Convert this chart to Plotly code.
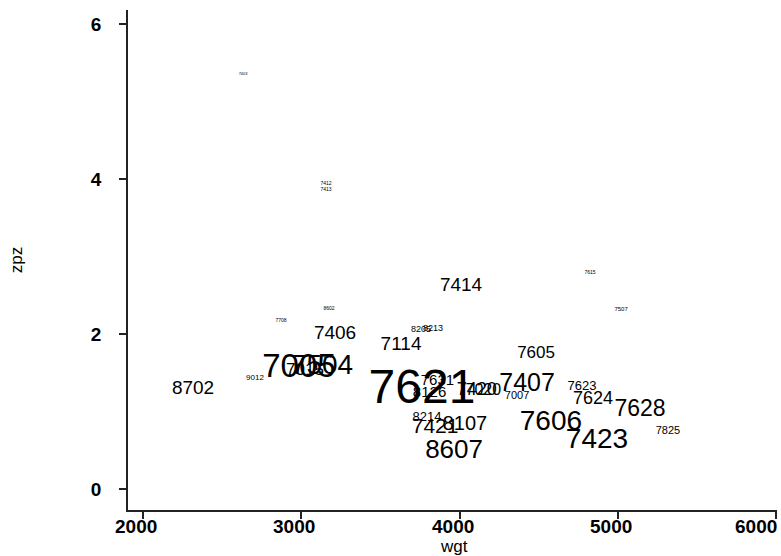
import plotly.graph_objects as go

# Observation ids, used as the marker labels
ids = ["8702", "9012", "7005", "7015", "7504", "8201", "7406", "7114",
       "8205", "8213", "7621", "7631", "8126", "7420", "7020", "7407",
       "7007", "7605", "7623", "7624", "7628", "7825", "7606", "7423",
       "8607", "7421", "8214", "8107", "7507", "8602", "7708", "7412",
       "7413", "7615", "7403", "7414"]

# Horizontal variable
wgt = [2316, 2707, 2985, 3023, 3131, 3175, 3213, 3630,
       3756, 3832, 3762, 3860, 3810, 4108, 4150, 4426,
       4363, 4483, 4773, 4843, 5140, 5316, 4577, 4868,
       3965, 3845, 3794, 4034, 5020, 3175, 2872, 3156,
       3156, 4824, 2632, 4009]

# Vertical variable
zpz = [1.29, 1.43, 1.55, 1.52, 1.57, 1.70, 2.00, 1.86,
       2.05, 2.07, 1.265, 1.39, 1.23, 1.27, 1.26, 1.35,
       1.20, 1.74, 1.32, 1.16, 1.02, 0.74, 0.85, 0.62,
       0.48, 0.79, 0.92, 0.83, 2.32, 2.32, 2.17, 3.94,
       3.86, 2.79, 5.35, 2.62]

# Analytic weight that sets the size of each label
wt = [19, 8, 33, 17, 28, 5, 19, 19,
      9, 9, 48, 15, 15, 18, 16, 25,
      11, 17, 13, 18, 23, 11, 28, 28,
      26, 21, 13, 20, 6, 5, 5, 5,
      5, 5, 4, 19]

xticks = [2000, 3000, 4000, 5000, 6000]
yticks = [0, 2, 4, 6]

max_size = 48
sizes = [max_size * w / max(wt) for w in wt]

font = "Liberation Sans, Arial, Helvetica, sans-serif"
tick_font = dict(family=font, size=19, color="black", weight="bold")

fig = go.Figure(
    go.Scatter(
        x=wgt, y=zpz, mode="text", text=ids,
        textposition="middle center",
        textfont=dict(family=font, size=sizes, color="black"),
        hoverinfo="skip", showlegend=False,
    )
)

axis_common = dict(
    showgrid=False, zeroline=False, showline=True,
    linecolor="#222222", linewidth=1.5,
    ticks="outside", ticklen=7, tickwidth=1.5, tickcolor="#222222",
    tickfont=tick_font,
    title_font=dict(family=font, size=17, color="black"),
    automargin=False,
)

# x tick labels sit a little left of their ticks; the last one is pulled
# further in so that it stays on the page
xtick_labels = [
    dict(text=str(v), xref="x", yref="paper", x=v, y=-0.032,
         xanchor="center", yanchor="middle", showarrow=False,
         xshift=-20 if v == xticks[-1] else -7, font=tick_font)
    for v in xticks
]

fig.update_layout(
    width=781, height=556,
    margin=dict(l=128, r=4, t=10, b=46),
    paper_bgcolor="white", plot_bgcolor="white",
    xaxis=dict(range=[1905, 6005], tickvals=xticks, showticklabels=False,
               **axis_common),
    yaxis=dict(range=[-0.271, 6.18], tickvals=yticks,
               title=dict(text="zpz", standoff=64),
               ticklabelstandoff=14, **axis_common),
    annotations=xtick_labels + [
        dict(text="wgt", xref="paper", yref="paper", x=0.502, y=-0.072,
             xanchor="center", yanchor="middle", showarrow=False,
             font=dict(family=font, size=17, color="black")),
    ],
)

fig.write_html("out.html")
